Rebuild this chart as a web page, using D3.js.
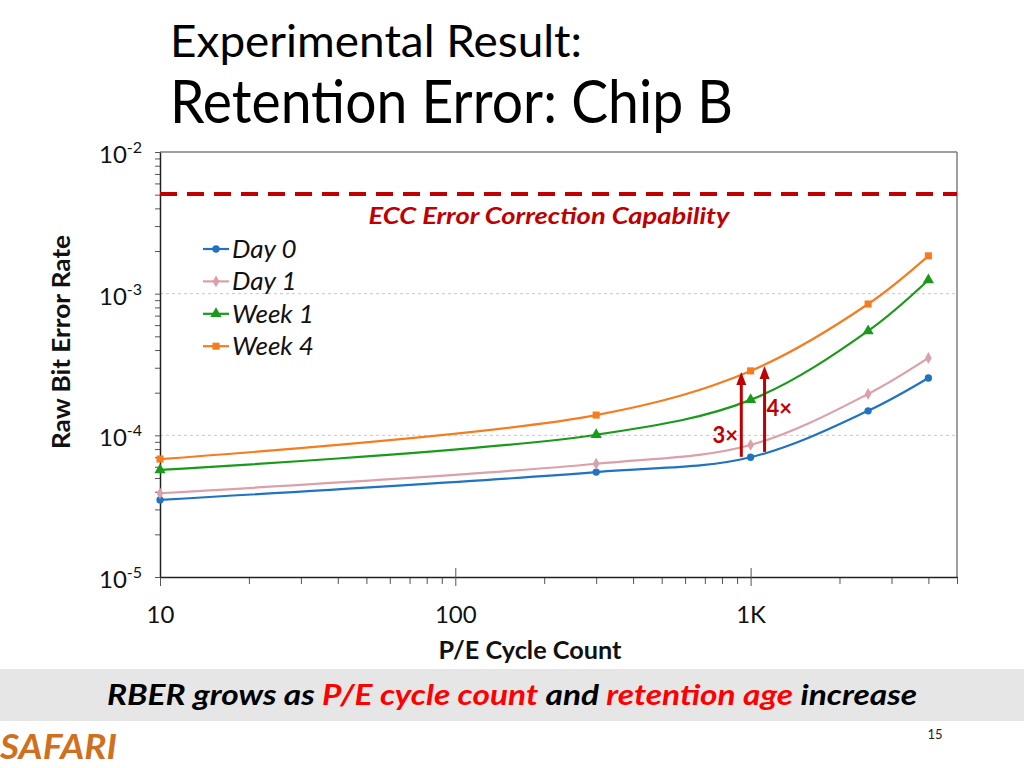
<!DOCTYPE html>
<html><head><meta charset="utf-8">
<script src="https://cdn.jsdelivr.net/npm/d3@7"></script>
<style>
html,body{margin:0;padding:0;background:#fff;}
svg{display:block;font-family:Lato, "Open Sans", sans-serif;}
</style></head>
<body>
<svg id="c" width="1024" height="768"></svg>
<script>
// ---- data ----
const peCycles = [10, 300, 1000, 2500, 4000];
const seriesNames = ["Day 0", "Day 1", "Week 1", "Week 4"];
const day0  = [3.5e-5, 5.5e-5, 7.0e-5, 1.49e-4, 2.54e-4];
const day1  = [3.9e-5, 6.3e-5, 8.55e-5, 1.96e-4, 3.52e-4];
const week1 = [5.7e-5, 1.01e-4, 1.78e-4, 5.46e-4, 1.25e-3];
const week4 = [6.8e-5, 1.39e-4, 2.85e-4, 8.45e-4, 1.85e-3];
const eccLimit = 5.06e-3;
const xMajorTicks = [10, 100, 1000];
const xTickLabels = ["10", "100", "1K"];
const yMajorTicks = [1e-2, 1e-3, 1e-4, 1e-5];
const yTickExponents = ["-2", "-3", "-4", "-5"];
const arrowX = [930, 1115];
const arrowFrom = [7.05e-5, 7.64e-5];
const arrowTo = [2.8e-4, 3.09e-4];
const arrowLabels = ["3×", "4×"];
const arrowLabelX = [820, 1250];
const arrowLabelY = [1.0e-4, 1.57e-4];

const colors = ["#1f73c0", "#dba0a8", "#1a9a1a", "#f57c1f"];
const symbols = [d3.symbolCircle, d3.symbolDiamond, d3.symbolTriangle, d3.symbolSquare];
const symSizes = [42, 40, 55, 50];
const allSeries = [day0, day1, week1, week4];

const svg = d3.select("#c");
const x = d3.scaleLog().domain([10, 5000]).range([160, 957]);
const y = d3.scaleLog().domain([1e-5, 1e-2]).range([577, 152]);
const darkRed = "#c00000";

// Titles
svg.append("text").attr("x", 170).attr("y", 57).attr("font-size", 44)
  .attr("textLength", 412).attr("lengthAdjust", "spacingAndGlyphs")
  .attr("fill", "#000").text("Experimental Result:");
svg.append("text").attr("x", 170).attr("y", 123).attr("font-size", 60)
  .attr("textLength", 563).attr("lengthAdjust", "spacingAndGlyphs")
  .attr("fill", "#000").text("Retention Error: Chip B");

// gridlines
svg.append("g").selectAll("line").data([1e-3, 1e-4]).join("line")
  .attr("x1", 160).attr("x2", 957).attr("y1", d => y(d)).attr("y2", d => y(d))
  .attr("stroke", "#c8c8c8").attr("stroke-width", 1).attr("stroke-dasharray", "3,3");

// frame top/right
svg.append("line").attr("x1", 160).attr("x2", 957).attr("y1", 152).attr("y2", 152)
  .attr("stroke", "#7f7f7f").attr("stroke-width", 1.5);
svg.append("line").attr("x1", 957).attr("x2", 957).attr("y1", 152).attr("y2", 577)
  .attr("stroke", "#7f7f7f").attr("stroke-width", 1.5);

// x minor ticks
const xMinor = [];
[10, 100, 1000].forEach(b => { for (let k = 2; k <= 9; k++) { const v = b * k; if (v <= 5000) xMinor.push(v); } });
const xMinorAxis = d3.axisBottom(x).tickValues(xMinor).tickSize(7).tickFormat("");
const gxm = svg.append("g").attr("transform", "translate(0,577)").call(xMinorAxis);
gxm.select(".domain").remove();
gxm.selectAll("line").attr("stroke", "#555");
// x major ticks
const xAxis = d3.axisBottom(x).tickValues(xMajorTicks).tickSizeInner(9).tickSizeOuter(0)
  .tickPadding(20).tickFormat((d, i) => xTickLabels[i]);
const gx = svg.append("g").attr("transform", "translate(0,577)").call(xAxis);
gx.select(".domain").attr("stroke", "#222").attr("stroke-width", 1.5);
gx.selectAll(".tick line").attr("stroke", "#555").attr("y1", -9);
gx.selectAll(".tick text").attr("font-size", 24).attr("fill", "#111")
  .attr("font-family", "Lato, sans-serif");

// y ticks
const yMinor = [];
[1e-5, 1e-4, 1e-3].forEach(b => { for (let k = 2; k <= 9; k++) yMinor.push(b * k); });
const yMinorAxis = d3.axisLeft(y).tickValues(yMinor).tickSize(5).tickFormat("");
const gym = svg.append("g").attr("transform", "translate(160,0)").call(yMinorAxis);
gym.select(".domain").remove();
gym.selectAll("line").attr("stroke", "#555");
const yAxis = d3.axisLeft(y).tickValues(yMajorTicks).tickSizeInner(5).tickSizeOuter(0).tickFormat("");
const gy = svg.append("g").attr("transform", "translate(160,0)").call(yAxis);
gy.select(".domain").attr("stroke", "#222").attr("stroke-width", 1.5);
gy.selectAll(".tick line").attr("stroke", "#555");
const ylab = svg.append("g").selectAll("text").data(yMajorTicks).join("text")
  .attr("x", 99).attr("y", d => y(d) + 11)
  .attr("font-size", 24).attr("fill", "#111");
ylab.append("tspan").text("10");
ylab.append("tspan").attr("dy", -10).attr("font-size", 16).text((d, i) => yTickExponents[i]);

// axis titles
svg.append("text").attr("transform", "translate(70,342) rotate(-90)")
  .attr("text-anchor", "middle").attr("font-size", 24).attr("font-weight", "bold")
  .attr("textLength", 214).attr("lengthAdjust", "spacingAndGlyphs")
  .attr("fill", "#111").text("Raw Bit Error Rate");
svg.append("text").attr("x", 530).attr("y", 659).attr("text-anchor", "middle")
  .attr("font-size", 25).attr("font-weight", "bold").attr("fill", "#111")
  .attr("textLength", 183).attr("lengthAdjust", "spacingAndGlyphs").text("P/E Cycle Count");

// ECC line
svg.append("line").attr("x1", 160).attr("x2", 957).attr("y1", y(eccLimit)).attr("y2", y(eccLimit))
  .attr("stroke", darkRed).attr("stroke-width", 4).attr("stroke-dasharray", "17,10");
svg.append("text").attr("x", 549).attr("y", 224).attr("text-anchor", "middle")
  .attr("font-size", 22).attr("font-weight", "bold").attr("font-style", "italic")
  .attr("fill", darkRed).attr("textLength", 361).attr("lengthAdjust", "spacingAndGlyphs")
  .text("ECC Error Correction Capability");

// series
const line = d3.line().x(d => x(d[0])).y(d => y(d[1])).curve(d3.curveCatmullRom.alpha(0.5));
allSeries.forEach((s, i) => {
  const pts = peCycles.map((c, j) => [c, s[j]]);
  svg.append("path").attr("d", line(pts)).attr("fill", "none")
    .attr("stroke", colors[i]).attr("stroke-width", 2.2);
  svg.append("g").selectAll("path").data(pts).join("path")
    .attr("transform", d => `translate(${x(d[0])},${y(d[1])})`)
    .attr("d", d3.symbol().type(symbols[i]).size(symSizes[i])())
    .attr("fill", colors[i]);
});

// arrows
arrowX.forEach((ax, i) => {
  const px = x(ax), py0 = y(arrowFrom[i]), py1 = y(arrowTo[i]);
  svg.append("line").attr("x1", px).attr("x2", px)
    .attr("y1", py0).attr("y2", py1 + 10)
    .attr("stroke", darkRed).attr("stroke-width", 3);
  svg.append("path")
    .attr("d", `M${px},${py1} L${px - 5},${py1 + 13} L${px + 5},${py1 + 13} Z`)
    .attr("fill", darkRed);
  svg.append("text").attr("x", x(arrowLabelX[i])).attr("y", y(arrowLabelY[i]) + 8)
    .attr("text-anchor", "middle").attr("font-size", 22).attr("font-weight", "bold")
    .attr("fill", darkRed).text(arrowLabels[i]);
});

// legend
const lg = svg.append("g");
seriesNames.forEach((n, i) => {
  const yy = 249 + i * 32.4;
  lg.append("line").attr("x1", 203).attr("x2", 229).attr("y1", yy).attr("y2", yy)
    .attr("stroke", colors[i]).attr("stroke-width", 2.2);
  lg.append("path").attr("transform", `translate(216,${yy})`)
    .attr("d", d3.symbol().type(symbols[i]).size(symSizes[i])()).attr("fill", colors[i]);
  lg.append("text").attr("x", 232).attr("y", yy + 9).attr("font-size", 26)
    .attr("font-style", "italic").attr("fill", "#111").text(n);
});

// bottom band
svg.append("rect").attr("x", 0).attr("y", 669).attr("width", 1024).attr("height", 52).attr("fill", "#e6e6e6");
const bt = svg.append("text").attr("x", 512).attr("y", 705).attr("text-anchor", "middle")
  .attr("font-size", 28).attr("font-weight", "bold").attr("font-style", "italic")
  .attr("textLength", 810).attr("lengthAdjust", "spacingAndGlyphs");
[["RBER grows as ", "#000"], ["P/E cycle count", "#ff0000"], [" and ", "#000"],
 ["retention age", "#ff0000"], [" increase", "#000"]].forEach(p => {
  bt.append("tspan").attr("fill", p[1]).text(p[0]);
});
svg.append("text").attr("x", 0).attr("y", 759).attr("font-size", 34).attr("font-weight", "bold")
  .attr("font-style", "italic").attr("fill", "#d0701e").attr("textLength", 117)
  .attr("lengthAdjust", "spacingAndGlyphs").text("SAFARI");
svg.append("text").attr("x", 935).attr("y", 739).attr("text-anchor", "middle")
  .attr("font-size", 13).attr("fill", "#222").text("15");
</script>
</body></html>
